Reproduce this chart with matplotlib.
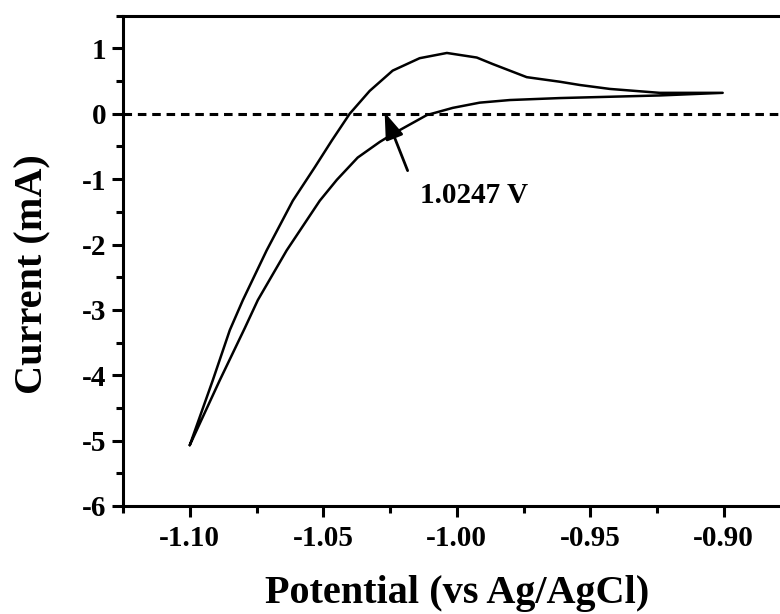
import matplotlib
matplotlib.use("Agg")
import matplotlib.pyplot as plt
from matplotlib.ticker import MultipleLocator, FixedLocator

plt.rcParams['font.family'] = ['Liberation Serif', 'DejaVu Serif']
plt.rcParams['font.weight'] = 'bold'

# Lower branch: from -1.10 V up to -0.90 V
lower_potential = [-1.1000, -1.0888, -1.0794, -1.0745, -1.0637, -1.0513, -1.0449,
                   -1.0371, -1.0288, -1.0240, -1.0112, -1.0015, -0.9914, -0.9801,
                   -0.9614, -0.9427, -0.9240, -0.9004]
lower_current = [-5.07, -4.08, -3.28, -2.85, -2.09, -1.33, -1.01,
                 -0.67, -0.43, -0.31, -0.02, 0.09, 0.17, 0.21,
                 0.24, 0.26, 0.28, 0.32]

# Upper branch: from -0.90 V back to -1.10 V (listed left to right)
upper_potential = [-1.1000, -1.0914, -1.0850, -1.0801, -1.0712, -1.0614, -1.0532,
                   -1.0468, -1.0401, -1.0326, -1.0240, -1.0139, -1.0037, -0.9925,
                   -0.9865, -0.9738, -0.9614, -0.9539, -0.9427, -0.9240, -0.9004]
upper_current = [-5.07, -4.08, -3.31, -2.85, -2.09, -1.33, -0.82,
                 -0.41, 0.00, 0.35, 0.66, 0.85, 0.93, 0.86,
                 0.76, 0.56, 0.49, 0.44, 0.38, 0.32, 0.32]

x_ticks = [-1.10, -1.05, -1.00, -0.95, -0.90]
x_tick_labels = ['-1.10', '-1.05', '-1.00', '-0.95', '-0.90']
y_ticks = [-6, -5, -4, -3, -2, -1, 0, 1]
y_tick_labels = ['-6', '-5', '-4', '-3', '-2', '-1', '0', '1']

annotation_text = '1.0247 V'
arrow_tip = (-1.0270, 0.02)
arrow_tail = (-1.0184, -0.87)
text_pos = (-1.0139, -1.36)

fig = plt.figure(figsize=(7.8, 6.14), dpi=100)
ax = fig.add_axes([123 / 780, 108 / 614, 667.5 / 780, 490.3 / 614])

# closed CV loop: lower branch forward, upper branch back
loop_x = lower_potential + upper_potential[::-1]
loop_y = lower_current + upper_current[::-1]
ax.plot(loop_x, loop_y, color='black', lw=1.8, solid_joinstyle='round',
        solid_capstyle='round')

ax.axhline(0, color='black', lw=2.2, dashes=(2.8, 1.9))

ax.annotate('', xy=arrow_tip, xytext=arrow_tail,
            arrowprops=dict(arrowstyle='-|>,head_length=0.8,head_width=0.28',
                            mutation_scale=20, color='black', lw=2.0,
                            shrinkA=0, shrinkB=0))
ax.text(text_pos[0], text_pos[1], annotation_text, fontsize=21, fontweight='bold',
        ha='left', va='baseline')

ax.set_xlim(-1.125, -0.875)
ax.set_ylim(-6, 1.5)
ax.xaxis.set_major_locator(FixedLocator(x_ticks))
ax.set_xticklabels(x_tick_labels)
ax.yaxis.set_major_locator(FixedLocator(y_ticks))
ax.set_yticklabels(y_tick_labels)
ax.xaxis.set_minor_locator(MultipleLocator(0.025))
ax.yaxis.set_minor_locator(MultipleLocator(0.5))

for s in ax.spines.values():
    s.set_linewidth(2.2)

ax.tick_params(which='major', direction='out', length=8, width=2.2,
               labelsize=21, top=False, right=False)
ax.tick_params(which='minor', direction='out', length=5, width=2.2,
               top=False, right=False)
ax.tick_params(axis='x', which='major', pad=6)
ax.tick_params(axis='y', which='major', pad=4)
for lab in ax.get_xticklabels() + ax.get_yticklabels():
    lab.set_fontweight('bold')

ax.set_xlabel('Potential (vs Ag/AgCl)', fontsize=29, fontweight='bold', labelpad=16)
ax.set_ylabel('Current (mA)', fontsize=29, fontweight='bold')
ax.yaxis.set_label_coords(-0.108, 0.473)

fig.savefig('out.png', dpi=100)
